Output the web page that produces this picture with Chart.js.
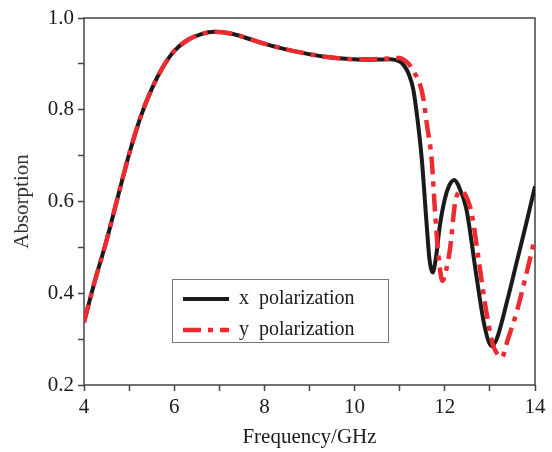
<!DOCTYPE html>
<html>
<head>
<meta charset="utf-8">
<script src="https://cdn.jsdelivr.net/npm/chart.js@4"></script>
<style>
  html, body { margin: 0; padding: 0; background: #fff; }
  #wrap { width: 552px; height: 452px; }
</style>
</head>
<body>
<div id="wrap"><canvas id="chartAbs"></canvas></div>
<script>
// Données
const freqX = [4.0, 4.25, 4.5, 4.75, 5.0, 5.25, 5.5, 5.75, 6.0, 6.3, 6.6, 6.9, 7.3, 7.8, 8.3, 8.8, 9.3, 9.8, 10.3, 10.8,
               11.0, 11.1, 11.2, 11.3, 11.4, 11.49, 11.6, 11.66, 11.73, 11.8, 11.89, 12.0, 12.1, 12.21, 12.3, 12.48, 12.7, 12.88,
               13.04, 13.15, 13.4, 13.6, 13.8, 14.0];
const absX  = [0.337, 0.43, 0.515, 0.61, 0.703, 0.783, 0.845, 0.893, 0.928, 0.952, 0.965, 0.97, 0.965, 0.95, 0.936, 0.925, 0.916, 0.911, 0.909, 0.91,
               0.905, 0.896, 0.878, 0.845, 0.775, 0.692, 0.547, 0.474, 0.445, 0.475, 0.547, 0.605, 0.635, 0.647, 0.635, 0.583, 0.438, 0.329,
               0.285, 0.3, 0.39, 0.47, 0.55, 0.633];

const freqY = [4.0, 4.25, 4.5, 4.75, 5.0, 5.25, 5.5, 5.75, 6.0, 6.3, 6.6, 6.9, 7.3, 7.8, 8.3, 8.8, 9.3, 9.8, 10.3, 10.8,
               11.0, 11.1, 11.2, 11.3, 11.45, 11.52, 11.6, 11.71, 11.78, 11.86, 11.95, 12.03, 12.12, 12.23, 12.37, 12.5,
               12.6, 12.75, 12.9, 13.06, 13.15, 13.26, 13.4, 13.59, 13.85, 14.0];
const absY  = [0.337, 0.43, 0.515, 0.61, 0.703, 0.783, 0.845, 0.893, 0.928, 0.952, 0.965, 0.97, 0.965, 0.95, 0.936, 0.925, 0.916, 0.911, 0.91, 0.912,
               0.913, 0.908, 0.9, 0.885, 0.855, 0.827, 0.77, 0.69, 0.583, 0.481, 0.427, 0.45, 0.5, 0.598, 0.623, 0.605,
               0.572, 0.474, 0.372, 0.29, 0.27, 0.26, 0.3, 0.358, 0.459, 0.521];

const seriesLabels = ['x  polarization', 'y  polarization'];

const toPoints = (xs, ys) => xs.map((f, i) => ({ x: f, y: ys[i] }));
const serif = 'Liberation Serif';

// Cadre autour de la zone de tracé
const boxPlugin = {
    id: 'box',
    beforeDatasetsDraw(chart) {
        const a = chart.chartArea;
        const ctx = chart.ctx;
        ctx.save();
        ctx.strokeStyle = '#444';
        ctx.lineWidth = 1.5;
        ctx.strokeRect(a.left, a.top, a.right - a.left, a.bottom - a.top);
        ctx.restore();
    }
};

// Légende encadrée dans la zone de tracé
const legendBox = {
    id: 'legendBox',
    afterDraw(chart) {
        const ctx = chart.ctx;
        const x0 = 172.5, y0 = 279.5, w = 216, h = 63;
        ctx.save();
        ctx.fillStyle = '#fff';
        ctx.fillRect(x0, y0, w, h);
        ctx.strokeStyle = '#777';
        ctx.lineWidth = 1;
        ctx.strokeRect(x0, y0, w, h);
        const rows = [299, 330];
        chart.data.datasets.forEach((ds, i) => {
            const y = rows[i];
            ctx.strokeStyle = ds.borderColor;
            ctx.lineWidth = ds.borderWidth;
            ctx.setLineDash(ds.borderDash || []);
            ctx.beginPath();
            ctx.moveTo(183, y);
            ctx.lineTo(229, y);
            ctx.stroke();
            ctx.setLineDash([]);
            ctx.fillStyle = '#1a1a1a';
            ctx.font = '20px "' + serif + '"';
            ctx.textBaseline = 'middle';
            ctx.fillText(ds.label, 239, y);
        });
        ctx.restore();
    }
};

new Chart(document.getElementById('chartAbs'), {
    type: 'line',
    data: {
        datasets: [{
            label: seriesLabels[0],
            data: toPoints(freqX, absX),
            borderColor: '#1a1a1a',
            borderWidth: 4,
            pointRadius: 0,
            cubicInterpolationMode: 'monotone',
            order: 2
        }, {
            label: seriesLabels[1],
            data: toPoints(freqY, absY),
            borderColor: '#ec2a30',
            borderWidth: 4.5,
            borderDash: [18, 7, 5, 7],
            pointRadius: 0,
            cubicInterpolationMode: 'monotone',
            order: 1
        }]
    },
    options: {
        responsive: true,
        maintainAspectRatio: false,
        animation: false,
        layout: { padding: { left: 0, right: 17, top: 18, bottom: 0 } },
        plugins: {
            legend: { display: false },
            tooltip: { enabled: false }
        },
        scales: {
            x: {
                type: 'linear',
                min: 4,
                max: 14,
                afterFit(scale) { scale.height = 67; },
                ticks: {
                    stepSize: 1,
                    autoSkip: false,
                    maxRotation: 0,
                    padding: 4,
                    color: '#1a1a1a',
                    font: { family: serif, size: 21 },
                    callback: v => (v % 2 === 0 ? String(v) : '')
                },
                grid: { drawOnChartArea: false, tickLength: 6, tickColor: '#444', tickWidth: 1.5 },
                border: { display: false },
                title: {
                    display: true,
                    text: 'Frequency/GHz',
                    color: '#1a1a1a',
                    font: { family: serif, size: 21 },
                    padding: { top: 0, bottom: 2 }
                }
            },
            y: {
                min: 0.2,
                max: 1.0,
                afterFit(scale) { scale.width = 84; },
                ticks: {
                    stepSize: 0.1,
                    autoSkip: false,
                    padding: 4,
                    color: '#1a1a1a',
                    font: { family: serif, size: 21 },
                    callback: v => (Math.round(v * 10) % 2 === 0 ? v.toFixed(1) : '')
                },
                grid: { drawOnChartArea: false, tickLength: 6, tickColor: '#444', tickWidth: 1.5 },
                border: { display: false },
                title: {
                    display: true,
                    text: 'Absorption',
                    color: '#333',
                    font: { family: serif, size: 21 },
                    padding: { top: 10, bottom: 0 }
                }
            }
        }
    },
    plugins: [boxPlugin, legendBox]
});
</script>
</body>
</html>
